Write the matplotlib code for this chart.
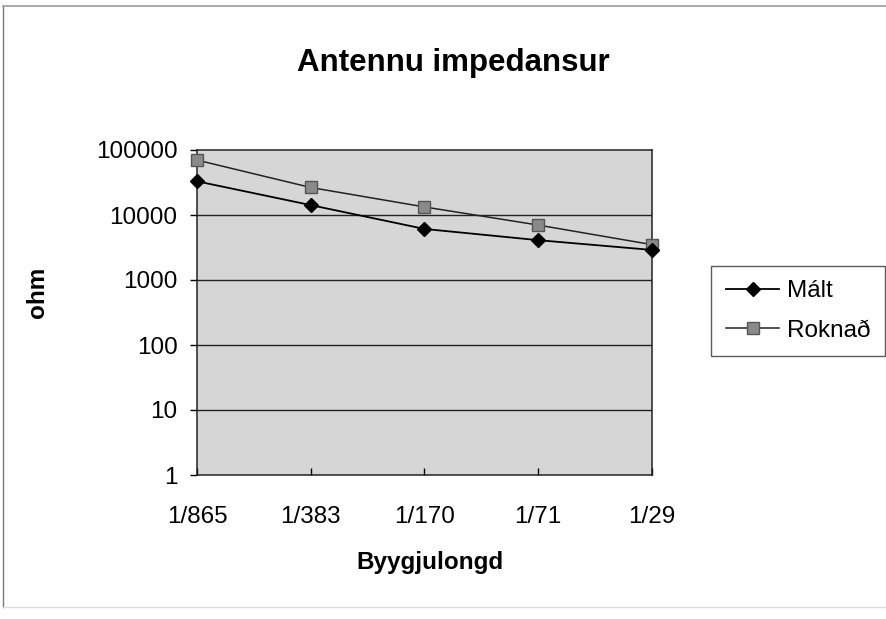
import matplotlib.pyplot as plt
import numpy as np

plt.rcParams['font.family'] = ['Liberation Sans', 'DejaVu Sans']

# data
categories = ["1/865", "1/383", "1/170", "1/71", "1/29"]
malt = [33000, 14200, 6100, 4100, 2900]
roknad = [70000, 26500, 13300, 7000, 3500]
yticks = [1, 10, 100, 1000, 10000, 100000]

fig = plt.figure(figsize=(8.87, 6.19), dpi=100)
ax = fig.add_axes([197 / 887, 1 - 475 / 619, (652 - 197) / 887, (475 - 150) / 619])
ax.set_facecolor("#d6d6d6")

x = np.arange(len(categories))
ax.plot(x, malt, color="black", lw=1.3, marker="D", ms=7, mfc="black", mec="black",
        label="Mált", zorder=4, clip_on=False)
ax.plot(x, roknad, color="#222222", lw=1.1, marker="s", ms=8, mfc="#8a8a8a", mec="#555555",
        label="Roknað", zorder=3, clip_on=False)

ax.set_yscale("log")
ax.set_ylim(1, 100000)
ax.set_xlim(0, len(categories) - 1)
ax.set_yticks(yticks)
ax.set_yticklabels([str(v) for v in yticks])
ax.yaxis.set_minor_locator(plt.NullLocator())
ax.set_xticks(x)
ax.set_xticklabels(categories)

for v in yticks[1:-1]:
    ax.axhline(v, color="#222222", lw=1.0, zorder=1)

ax.tick_params(axis="y", direction="out", length=5, width=1, pad=9, labelsize=17.5)
ax.tick_params(axis="x", direction="in", length=5, width=1, pad=22, labelsize=17.5)
for s in ax.spines.values():
    s.set_color("#222222")
    s.set_linewidth(1.1)

fig.text(453 / 887, 1 - 63 / 619, "Antennu impedansur", ha="center", va="center",
         fontsize=22.5, fontweight="bold")
fig.text(430 / 887, 1 - 562 / 619, "Byygjulongd", ha="center", va="center",
         fontsize=17.5, fontweight="bold")
fig.text(38 / 887, 1 - 292 / 619, "ohm", ha="center", va="center", rotation=90,
         fontsize=17.5, fontweight="bold")

leg = ax.legend(loc="center", bbox_to_anchor=(798 / 887, 1 - 311 / 619),
                bbox_transform=fig.transFigure, fontsize=17.5, frameon=True,
                fancybox=False, handlelength=2.2, handletextpad=0.3,
                borderpad=0.6, labelspacing=0.7)
leg.get_frame().set_edgecolor("#333333")
leg.get_frame().set_linewidth(1.0)

# outer chart border
fig.add_artist(plt.Line2D([3 / 887, 3 / 887], [1 - 6 / 619, 1 - 607 / 619],
                          transform=fig.transFigure, color="#777777", lw=1))
fig.add_artist(plt.Line2D([3 / 887, 1], [1 - 6 / 619, 1 - 6 / 619],
                          transform=fig.transFigure, color="#999999", lw=1.2))
fig.add_artist(plt.Line2D([3 / 887, 1], [1 - 607 / 619, 1 - 607 / 619],
                          transform=fig.transFigure, color="#dddddd", lw=1))

fig.savefig("out.png", dpi=100)
